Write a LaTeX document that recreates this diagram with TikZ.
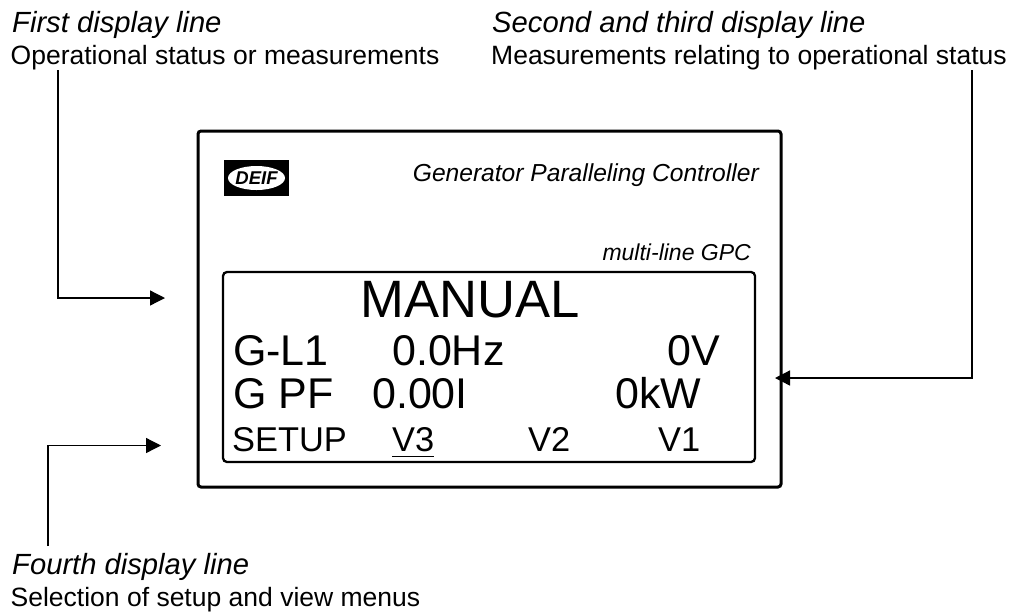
\documentclass[tikz,border=0pt]{standalone}
\usepackage{fontspec}
\usepackage{xcolor}
\setmainfont{Liberation Sans}
\usetikzlibrary{shapes.geometric,arrows.meta,positioning,calc}
\definecolor{ink}{HTML}{000000}
\begin{document}
\begin{tikzpicture}[x=1pt, y=-1pt,
    heading/.style={anchor=base west, inner sep=0pt, font=\fontsize{29.2}{32}\selectfont\itshape},
    caption/.style={anchor=base west, inner sep=0pt, font=\fontsize{26.5}{30}\selectfont},
    panelbox/.style={draw=ink, line width=3pt, rounded corners=3pt},
    lcdbox/.style={draw=ink, line width=2.3pt, rounded corners=4pt},
    lcdbig/.style={anchor=base west, inner sep=0pt, font=\fontsize{52.6}{56}\selectfont},
    lcdmid/.style={anchor=base west, inner sep=0pt, font=\fontsize{43}{48}\selectfont},
    lcdlow/.style={anchor=base west, inner sep=0pt, font=\fontsize{34.4}{38}\selectfont},
    pointer/.style={draw=ink, line width=1.3pt, -{Triangle[length=15pt, width=15pt]}}
]
    \useasboundingbox (0,0) rectangle (1015,614);

    \node[heading] (first) at (12,32) {First display line};
    \node[caption] (firstsub) at (10.5,64) {Operational status or measurements};
    \node[heading] (second) at (492,32) {Second and third display line};
    \node[caption] (secondsub) at (491,64) {Measurements relating to operational status};
    \node[heading] (fourth) at (12,574) {Fourth display line};
    \node[caption] (fourthsub) at (10.5,606) {Selection of setup and view menus};

    % front panel
    \node[panelbox, minimum width=583pt, minimum height=356pt] (panel) at (489.5,309) {};
    \node[lcdbox, minimum width=532pt, minimum height=190pt] (lcd) at (489,367) {};

    % logo
    \node[fill=ink, minimum width=65pt, minimum height=36pt, inner sep=0pt] (logo) at (256.5,178) {};
    \node[ellipse, fill=white, minimum width=57pt, minimum height=24pt, inner sep=0pt] (logooval) at (logo) {};
    \node[inner sep=0pt, font=\fontsize{18.5}{20}\selectfont\bfseries\itshape] (logotext) at (logo) {DEIF};

    \node[inner sep=0pt, anchor=base east, font=\fontsize{24.6}{28}\selectfont\itshape] (model) at (759,181) {Generator Paralleling Controller};
    \node[inner sep=0pt, anchor=base east, font=\fontsize{23}{26}\selectfont\itshape] (variant) at (751,260) {multi-line GPC};

    % display lines
    \node[lcdbig] (mode) at (360,317) {MANUAL};
    \node[lcdmid] (gl) at (233,365) {G-L1};
    \node[lcdmid] (freq) at (392,365) {0.0Hz};
    \node[lcdmid] (volt) at (667,365) {0V};
    \node[lcdmid] (gpf) at (233,408) {G PF};
    \node[lcdmid] (pf) at (372,408) {0.00I};
    \node[lcdmid] (power) at (615,408) {0kW};
    \node[lcdlow] (setup) at (232,451) {SETUP};
    \node[lcdlow] (vthree) at (392,451) {V3};
    \node[lcdlow] (vtwo) at (528,451) {V2};
    \node[lcdlow] (vone) at (658,451) {V1};
    \draw[draw=ink, line width=1pt] ($(vthree.base west)+(0,5)$) -- ($(vthree.base east)+(0,5)$);

    \coordinate (firststart) at (58,70);
    \coordinate (firstend) at (165,298);
    \coordinate (secondstart) at (972,70);
    \coordinate (secondend) at (775,378);
    \coordinate (fourthstart) at (48,546);
    \coordinate (fourthend) at (161,445.5);

    \draw[pointer] (firststart) |- (firstend);
    \draw[pointer] (secondstart) |- (secondend);
    \draw[pointer] (fourthstart) |- (fourthend);
\end{tikzpicture}
\end{document}
